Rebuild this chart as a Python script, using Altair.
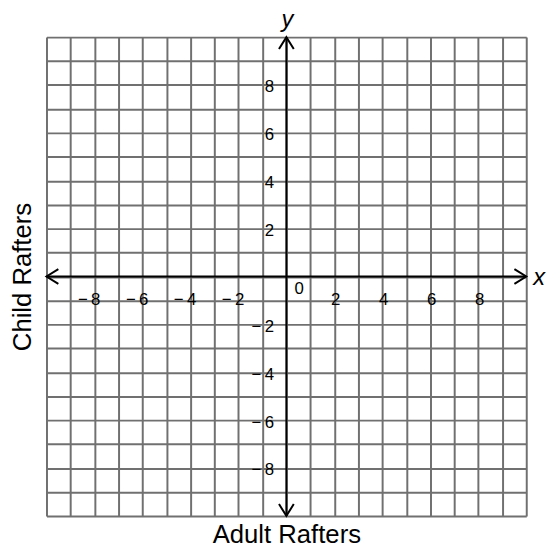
import altair as alt
import pandas as pd

# ---- data ----
AXIS_MIN, AXIS_MAX = -10, 10
grid_values = list(range(AXIS_MIN, AXIS_MAX + 1))
x_tick_values = [-8, -6, -4, -2, 2, 4, 6, 8]
x_tick_labels = ["\u2212\u20098", "\u2212\u20096", "\u2212\u20094", "\u2212\u20092", "2", "4", "6", "8"]
y_tick_values = [8, 6, 4, 2, -2, -4, -6, -8]
y_tick_labels = ["8", "6", "4", "2", "\u2212\u20092", "\u2212\u20094", "\u2212\u20096", "\u2212\u20098"]
origin_label = "0"
x_title = "Adult Rafters"
y_title = "Child Rafters"
x_name = "x"
y_name = "y"

FONT = "Liberation Sans"
W, H = 486, 485

xs = alt.Scale(domain=[AXIS_MIN, AXIS_MAX], nice=False, zero=False)
ys = alt.Scale(domain=[AXIS_MIN, AXIS_MAX], nice=False, zero=False)

axes_df = pd.DataFrame({
    "x": [AXIS_MIN, 0], "x2": [AXIS_MAX, 0],
    "y": [0, AXIS_MIN], "y2": [0, AXIS_MAX],
})
arrows_df = pd.DataFrame({
    "x": [AXIS_MAX, AXIS_MIN, 0, 0],
    "y": [0, 0, AXIS_MAX, AXIS_MIN],
    "angle": [0, 180, 270, 90],
})
xlab_df = pd.DataFrame({"x": x_tick_values, "y": [0] * len(x_tick_values), "label": x_tick_labels})
ylab_df = pd.DataFrame({"x": [0] * len(y_tick_values), "y": y_tick_values, "label": y_tick_labels})
origin_df = pd.DataFrame({"x": [0], "y": [0], "label": [origin_label]})
xname_df = pd.DataFrame({"x": [AXIS_MAX], "y": [0], "label": [x_name]})
yname_df = pd.DataFrame({"x": [0], "y": [AXIS_MAX], "label": [y_name]})

grid_axis_common = dict(
    values=grid_values, grid=True, gridColor="#707070", gridWidth=2, gridOpacity=1,
    labels=False, ticks=False, domain=False,
    titleFont=FONT, titleFontSize=26, titleFontWeight="normal", titleColor="black",
)
X_AXIS = alt.Axis(title=x_title, titleX=W / 2, titleY=27, titleAlign="center",
                  titleBaseline="alphabetic", **grid_axis_common)
Y_AXIS = alt.Axis(title=y_title, titleAngle=270, titleX=-24, titleY=H / 2, titleAlign="center",
                  titleBaseline="middle", **grid_axis_common)


def xy():
    return dict(x=alt.X("x:Q", scale=xs, axis=X_AXIS), y=alt.Y("y:Q", scale=ys, axis=Y_AXIS))


axes_layer = alt.Chart(axes_df).mark_rule(color="black", strokeWidth=2).encode(
    x2="x2:Q", y2="y2:Q", **xy()
)

arrow_layer = alt.Chart(arrows_df).mark_point(
    shape="M -1.6 -1 L 0 0 L -1.6 1", filled=False, stroke="black",
    strokeWidth=2, size=225, opacity=1,
).encode(angle=alt.Angle("angle:Q", scale=None), **xy())

xlab_layer = alt.Chart(xlab_df).mark_text(
    font=FONT, fontSize=17, align="right", baseline="middle", dx=6, dy=24, color="black"
).encode(text="label:N", **xy())

ylab_layer = alt.Chart(ylab_df).mark_text(
    font=FONT, fontSize=17, align="right", baseline="middle", dx=-12.5, dy=2.5, color="black"
).encode(text="label:N", **xy())

origin_layer = alt.Chart(origin_df).mark_text(
    font=FONT, fontSize=17, align="center", baseline="middle", dx=13, dy=13, color="black"
).encode(text="label:N", **xy())

xname_layer = alt.Chart(xname_df).mark_text(
    font=FONT, fontSize=24, fontStyle="italic", align="left", baseline="alphabetic",
    dx=7, dy=8.5, color="black"
).encode(text="label:N", **xy())

yname_layer = alt.Chart(yname_df).mark_text(
    font=FONT, fontSize=24, fontStyle="italic", align="center", baseline="alphabetic",
    dx=1, dy=-10, color="black"
).encode(text="label:N", **xy())

chart = alt.layer(
    axes_layer, arrow_layer, xlab_layer, ylab_layer, origin_layer, xname_layer, yname_layer
).properties(
    width=W, height=H,
    autosize=alt.AutoSizeParams(type="none"),
    padding={"left": 39, "top": 26, "right": 20, "bottom": 28},
    background="white",
).configure_view(stroke=None)

chart.save("out.html", embed_options={"renderer": "svg", "actions": False})
